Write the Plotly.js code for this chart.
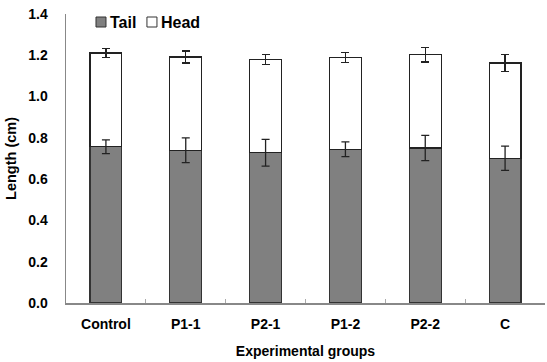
<!DOCTYPE html>
<html>
<head>
<meta charset="utf-8">
<script src="https://cdn.plot.ly/plotly-3.0.1.min.js"></script>
<style>html,body{margin:0;padding:0;background:#fff;}#chart{width:547px;height:362px;}</style>
</head>
<body>
<div id="chart"></div>
<script>
const groups = ["Control", "P1-1", "P2-1", "P1-2", "P2-2", "C"];
const tail = [0.757, 0.740, 0.728, 0.745, 0.751, 0.701];
const tailErr = [0.033, 0.060, 0.065, 0.036, 0.061, 0.059];
const head = [0.454, 0.452, 0.452, 0.445, 0.452, 0.462];
const headErr = [0.021, 0.029, 0.024, 0.024, 0.035, 0.040];
const seriesNames = ["Tail", "Head"];
const seriesColors = ["#808080", "#ffffff"];

const FAM = "Liberation Sans, Arial, sans-serif";
const errStyle = {type: "data", visible: true, color: "#222", thickness: 1.3, width: 4};

const traces = [
  {type: "bar", name: seriesNames[0], x: groups, y: tail, showlegend: false,
   marker: {color: seriesColors[0], line: {color: "#333", width: 1.2}}},
  {type: "bar", name: seriesNames[1], x: groups, y: head, showlegend: false,
   marker: {color: seriesColors[1], line: {color: "#222", width: 1.2}},
   error_y: Object.assign({array: headErr}, errStyle)},
  // tail error bars drawn on top of the stacked bars
  {type: "scatter", mode: "markers", x: groups, y: tail, showlegend: false, hoverinfo: "skip",
   marker: {size: 1, opacity: 0},
   error_y: Object.assign({array: tailErr}, errStyle)}
];

// legend drawn as squares + text (paper coordinates)
const legX = [0.0626, 0.169];
const shapes = seriesNames.map((n, i) => ({
  type: "rect", xref: "paper", yref: "paper",
  x0: legX[i], x1: legX[i] + 0.0209, y0: 0.955, y1: 0.9896,
  fillcolor: seriesColors[i], line: {color: "#333", width: 1}
}));
const annotations = seriesNames.map((n, i) => ({
  xref: "paper", yref: "paper", x: legX[i] + 0.026, y: 0.972,
  xanchor: "left", yanchor: "middle", showarrow: false,
  text: "<b>" + n + "</b>", font: {family: FAM, size: 16, color: "#000"}
}));

const layout = {
  width: 547, height: 362,
  margin: {l: 66, r: 2, t: 14, b: 59},
  barmode: "stack",
  bargap: 0.6,
  font: {family: FAM, color: "#000", size: 12},
  paper_bgcolor: "#fff", plot_bgcolor: "#fff",
  showlegend: false,
  shapes: shapes,
  annotations: annotations,
  xaxis: {
    type: "category",
    showline: true, linecolor: "#888", linewidth: 1.5,
    ticks: "inside", tickson: "boundaries", ticklen: 4, tickcolor: "#aaa",
    tickfont: {family: FAM, size: 14, color: "#000", weight: "bold"},
    ticklabelstandoff: 8,
    title: {text: "<b>Experimental groups</b>", font: {family: FAM, size: 14, color: "#000"}, standoff: 15},
    showgrid: false, zeroline: false
  },
  yaxis: {
    range: [0, 1.4], dtick: 0.2, tickformat: ".1f",
    showline: true, linecolor: "#888", linewidth: 1.5,
    ticks: "", showgrid: false, zeroline: false,
    tickfont: {family: FAM, size: 14, color: "#000", weight: "bold"},
    ticklabelstandoff: 14,
    title: {text: "<b>Length (cm)</b>", font: {family: FAM, size: 14.5, color: "#000"}, standoff: 8}
  }
};

Plotly.newPlot("chart", traces, layout, {displayModeBar: false, staticPlot: true});
</script>
</body>
</html>
